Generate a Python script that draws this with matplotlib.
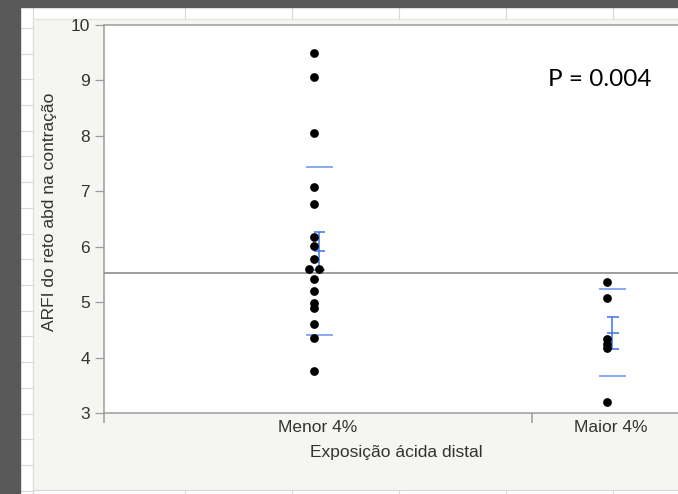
import matplotlib.pyplot as plt
from matplotlib.patches import Rectangle
from matplotlib.lines import Line2D
import numpy as np

# data
categories = ["Menor 4%", "Maior 4%"]
menor_vals = [9.49, 9.06, 8.05, 7.08, 6.77, 6.18, 6.01, 5.77, 5.59, 5.59,
              5.41, 5.20, 4.99, 4.89, 4.60, 4.36, 3.75]
maior_vals = [5.37, 5.07, 4.34, 4.25, 4.18, 3.20]
group_mean = [5.92, 4.45]
group_sd = [1.52, 0.79]
group_se = [0.34, 0.29]
grand_mean = 5.53
y_ticks = [3, 4, 5, 6, 7, 8, 9, 10]
p_text = "P = 0.004"

W, H = 678, 494
fig = plt.figure(figsize=(W / 100, H / 100), dpi=100)


def fx(px):
    return px / W


def fy(py):
    return 1 - py / H


# background: dark border, white margins, light gray panel
bg = fig.add_axes([0, 0, 1, 1])
bg.set_xlim(0, W)
bg.set_ylim(H, 0)
bg.axis("off")
bg.add_patch(Rectangle((0, 0), W, H, color="white", zorder=0))
bg.add_patch(Rectangle((33, 19), W - 33, 490 - 19, color="#f5f5f1", zorder=1))
bg.add_patch(Rectangle((0, 0), 20, H, color="#595959", zorder=3))
bg.add_patch(Rectangle((0, 0), W, 7, color="#595959", zorder=3))
grid_c = "#d9d9d9"
bg.plot([33, 33], [7, H], color=grid_c, lw=0.8, zorder=2)
bg.plot([33, W], [19, 19], color="#e2e2e2", lw=0.8, zorder=2)
bg.plot([33, W], [490, 490], color=grid_c, lw=0.8, zorder=2)
for gx in [185, 292, 399, 506, 613]:
    bg.plot([gx, gx], [7, 19], color=grid_c, lw=0.8, zorder=2)
    bg.plot([gx, gx], [490, H], color=grid_c, lw=0.8, zorder=2)
for gy in np.arange(28, H, 25.7):
    bg.plot([20, 33], [gy, gy], color=grid_c, lw=0.8, zorder=2)

# main plot
ax = fig.add_axes([fx(104), fy(413), fx(678) - fx(104), fy(25) - fy(413)])
ax.set_facecolor("white")
centers = [10.0, 23.7]
ax.set_xlim(0, (678 - 104) / 21.4)
ax.set_ylim(3, 10)

groups = [menor_vals, maior_vals]
for c, vals in zip(centers, groups):
    vals = np.array(vals)
    xs = np.full(len(vals), c - 0.2)
    for v in np.unique(vals):
        idx = np.where(vals == v)[0]
        if len(idx) > 1:
            xs[idx] = c - 0.2 + np.linspace(-0.23, 0.23, len(idx))
    ax.plot(xs, vals, "o", color="black", ms=6.3, mew=0, zorder=5)

ax.axhline(grand_mean, color="#8e8e8e", lw=1.2, zorder=3)

sd_c = "#7ea3f2"
bar_c = "#3f72e8"
for c, m, sd, se in zip(centers, group_mean, group_sd, group_se):
    bx = c + 0.05
    ax.hlines([m + sd, m - sd], bx - 0.63, bx + 0.63, color=sd_c, lw=1.3, zorder=4)
    ax.vlines(bx, m - se, m + se, color=bar_c, lw=1.1, zorder=4)
    ax.hlines([m - se, m, m + se], bx - 0.25, bx + 0.3, color=bar_c, lw=1.1, zorder=4)

for s in ["right"]:
    ax.spines[s].set_visible(False)
for s in ["left", "bottom", "top"]:
    ax.spines[s].set_color("#9c9c9c")
    ax.spines[s].set_linewidth(1.1)

ax.set_yticks(y_ticks)
ax.tick_params(axis="y", length=6.5, width=0.9, color="#9c9c9c", pad=3.5,
               labelsize=12.5, labelcolor="#333333")
ax.set_xticks([0, 20])
ax.set_xticklabels(["", ""])
ax.tick_params(axis="x", which="major", length=7, width=1.1, color="#9c9c9c")
ax.set_xticks(centers, minor=True)
ax.set_xticklabels(categories, minor=True)
ax.tick_params(axis="x", which="minor", length=0, pad=5,
               labelsize=12.5, labelcolor="#333333")
for lab in ax.get_xticklabels(minor=True) + ax.get_yticklabels():
    lab.set_fontfamily("Liberation Sans")

fig.text(fx(396), fy(452), "Exposição ácida distal", ha="center", va="center",
         fontsize=12.5, color="#333333", family="Liberation Sans")
fig.text(fx(50), fy(212), "ARFI do reto abd na contração", ha="center", va="center",
         rotation=90, fontsize=12.5, color="#333333", family="Liberation Sans")
fig.text(fx(600), fy(79), p_text, ha="center", va="center",
         fontsize=17.5, color="black", family="Lato")

fig.savefig("out.png", dpi=100)
